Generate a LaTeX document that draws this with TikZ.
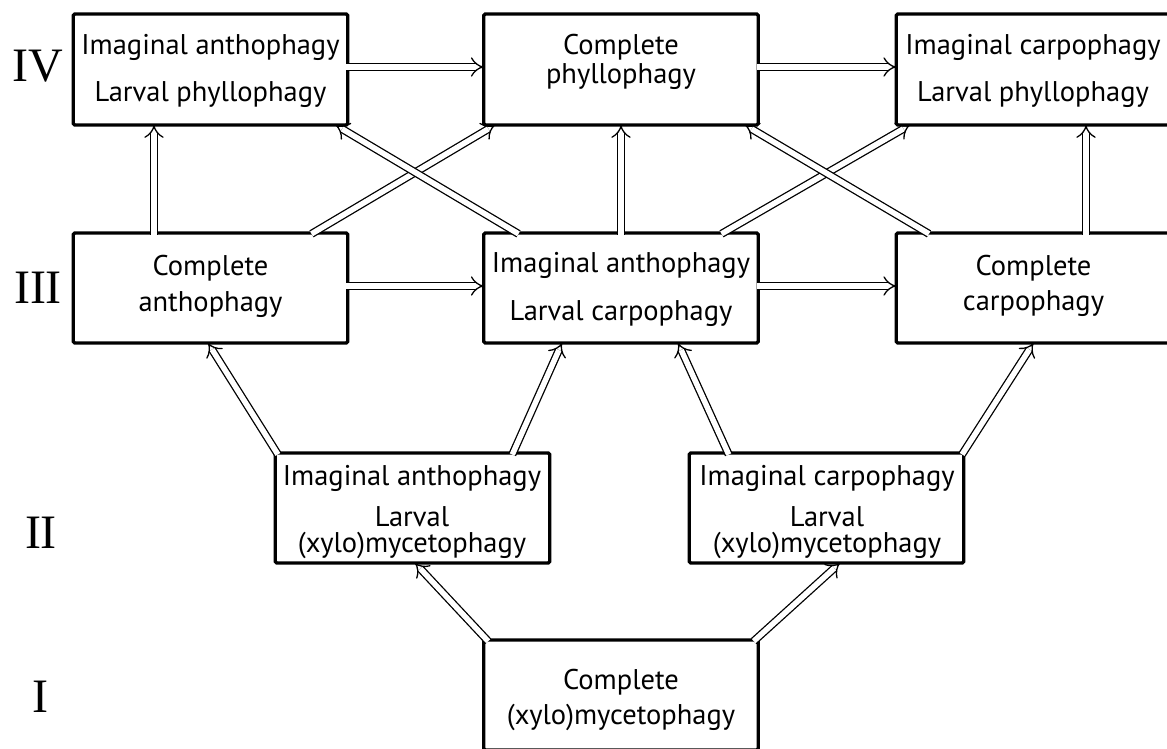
\documentclass[tikz,border=0pt]{standalone}
\usepackage{fontspec}
\setmainfont{PT Sans}
\newfontfamily\romfont{Liberation Serif}
\usetikzlibrary{arrows.meta,calc}
\begin{document}
\begin{tikzpicture}[x=1pt,y=-1pt,
  box/.style={draw, line width=3.4pt, minimum width=274.5pt, minimum height=111pt, inner sep=0pt, outer sep=0pt, rounded corners=1.5pt},
  txt/.style={anchor=base, inner sep=0pt, font=\fontsize{28.5}{32}\selectfont},
  rom/.style={anchor=base, inner sep=0pt, font=\romfont\fontsize{48}{50}\selectfont},
  arr/.style={double, double distance=5.5pt, line width=1.3pt, -{Implies[scale=1.6]}, shorten <=-1.7pt}]
\useasboundingbox (0,0) rectangle (1167,749);
% boxes
\node[box] (A) at (210.5,69.5) {};
\node[box] (B) at (621,69.5) {};
\node[box] (C) at (1033.5,69.5) {};
\node[box,minimum height=110pt] (D) at (210.5,288) {};
\node[box,minimum height=110pt] (E) at (621,288) {};
\node[box,minimum height=110pt] (F) at (1033.5,288) {};
\node[box,minimum height=110pt] (G) at (412.5,508) {};
\node[box,minimum height=110pt] (H) at (826.5,508) {};
\node[box,minimum height=110pt] (K) at (621,695) {};
% texts
\node[txt] (A1) at (210.5,55) {Imaginal anthophagy};
\node[txt] (A2) at (210.5,102) {Larval phyllophagy};
\node[txt] (B1) at (621,55) {Complete};
\node[txt] (B2) at (621,84) {phyllophagy};
\node[txt] (C1) at (1033,55) {Imaginal carpophagy};
\node[txt] (C2) at (1033,102) {Larval phyllophagy};
\node[txt] (D1) at (210.5,275) {Complete};
\node[txt] (D2) at (210.5,311) {anthophagy};
\node[txt] (E1) at (621,272) {Imaginal anthophagy};
\node[txt] (E2) at (621,320) {Larval carpophagy};
\node[txt] (F1) at (1033.5,275) {Complete};
\node[txt] (F2) at (1033.5,310) {carpophagy};
\node[txt] (G1) at (412,485) {Imaginal anthophagy};
\node[txt] (G2) at (412,526) {Larval};
\node[txt] (G3) at (412,552) {(xylo)mycetophagy};
\node[txt] (H1) at (827,485) {Imaginal carpophagy};
\node[txt] (H2) at (827,526) {Larval};
\node[txt] (H3) at (827,552) {(xylo)mycetophagy};
\node[txt] (K1) at (621,689) {Complete};
\node[txt] (K2) at (621,724) {(xylo)mycetophagy};
% level labels
\node[rom] (L4) at (38,82) {IV};
\node[rom] (L3) at (38,303) {III};
\node[rom] (L2) at (41,548) {II};
\node[rom] (L1) at (40,712) {I};
% arrows
\draw[arr] ([yshift=2.5]A.east) -- ([yshift=2.5]B.west);
\draw[arr] ([yshift=2.5]B.east) -- ([yshift=2.5]C.west);
\draw[arr] ([xshift=-56.5]D.north) -- ([xshift=-56.5]A.south);
\draw[arr] (E.north) -- (B.south);
\draw[arr] ([xshift=52.5]F.north) -- ([xshift=52.5]C.south);
\draw[arr] ([xshift=102.5]D.north) -- ([xshift=-126]B.south);
\draw[arr] ([xshift=-104]E.north) -- ([xshift=125]A.south);
\draw[arr] ([xshift=102]E.north) -- ([xshift=-123.5]C.south);
\draw[arr] ([xshift=-106]F.north) -- ([xshift=124]B.south);
\draw[arr] ([yshift=2]D.east) -- ([yshift=2]E.west);
\draw[arr] ([yshift=2]E.east) -- ([yshift=2]F.west);
\draw[arr] ([xshift=-135.5]G.north) -- ([xshift=-2.5]D.south);
\draw[arr] ([xshift=100.5]G.north) -- ([xshift=-59]E.south);
\draw[arr] ([xshift=-98.5]H.north) -- ([xshift=57]E.south);
\draw[arr] ([xshift=136.5]H.north) -- (F.south);
\draw[arr] ([xshift=-134]K.north) -- ([xshift=2.5]G.south);
\draw[arr] ([xshift=134]K.north) -- ([xshift=13.5]H.south);
\end{tikzpicture}
\end{document}
